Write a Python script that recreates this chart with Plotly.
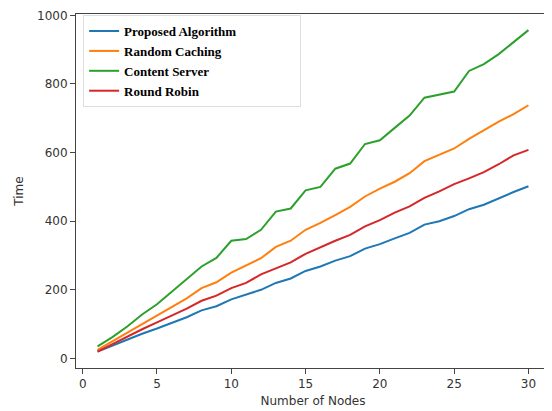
import plotly.graph_objects as go

nodes = list(range(1, 31))
proposed = [20, 38, 55, 72, 87, 103, 120, 140, 152, 172, 185, 200, 220, 233, 255,
            268, 285, 298, 320, 333, 350, 366, 390, 400, 415, 435, 448, 467, 485, 502]
random_caching = [25, 50, 75, 100, 125, 150, 175, 205, 222, 250, 270, 292, 325, 343, 375,
                  395, 418, 442, 472, 495, 515, 540, 575, 593, 612, 640, 665, 690, 712, 738]
content_server = [35, 62, 93, 128, 158, 195, 230, 268, 293, 343, 348, 375, 428, 437, 490,
                  500, 553, 568, 625, 636, 672, 708, 760, 768, 778, 838, 858, 887, 922, 957]
round_robin = [20, 42, 63, 85, 105, 125, 145, 168, 183, 205, 220, 245, 262, 280, 305,
               325, 343, 360, 385, 403, 425, 443, 468, 487, 508, 525, 543, 566, 592, 608]

series = [
    ("Proposed Algorithm", proposed, "#1f77b4"),
    ("Random Caching", random_caching, "#ff7f0e"),
    ("Content Server", content_server, "#2ca02c"),
    ("Round Robin", round_robin, "#d62728"),
]

fig = go.Figure()
for name, vals, color in series:
    pad = "&nbsp;" * (36 - len(name))
    fig.add_trace(go.Scatter(x=nodes, y=vals, mode="lines",
                             name="<b>" + name + "</b>" + pad,
                             line=dict(color=color, width=2)))

axis_common = dict(showline=True, linecolor="#444", linewidth=1, mirror=True,
                   ticks="outside", ticklen=5, tickcolor="#444", showgrid=False,
                   zeroline=False, tickfont=dict(family="DejaVu Sans", size=12, color="#333"))

fig.update_xaxes(range=[-0.45, 31.45], dtick=5, tick0=0,
                 title=dict(text="Number of Nodes", standoff=6,
                            font=dict(family="DejaVu Sans", size=12, color="#333")),
                 **axis_common)
fig.update_yaxes(range=[-28, 1004], dtick=200, tick0=0,
                 title=dict(text="Time", standoff=10,
                            font=dict(family="DejaVu Sans", size=12, color="#333")),
                 **axis_common)

# page body has an 8px default margin, so the figure is sized 8px smaller
fig.update_layout(
    width=544, height=403,
    margin=dict(l=68, r=2, t=6, b=43),
    paper_bgcolor="white", plot_bgcolor="white",
    legend=dict(x=0.015, y=0.997, xanchor="left", yanchor="top",
                bgcolor="rgba(255,255,255,0.8)", bordercolor="#ddd", borderwidth=1,
                font=dict(family="Liberation Serif", size=13, color="black"),
                tracegroupgap=0),
    font=dict(family="DejaVu Sans"),
)

fig.write_html("out.html")
